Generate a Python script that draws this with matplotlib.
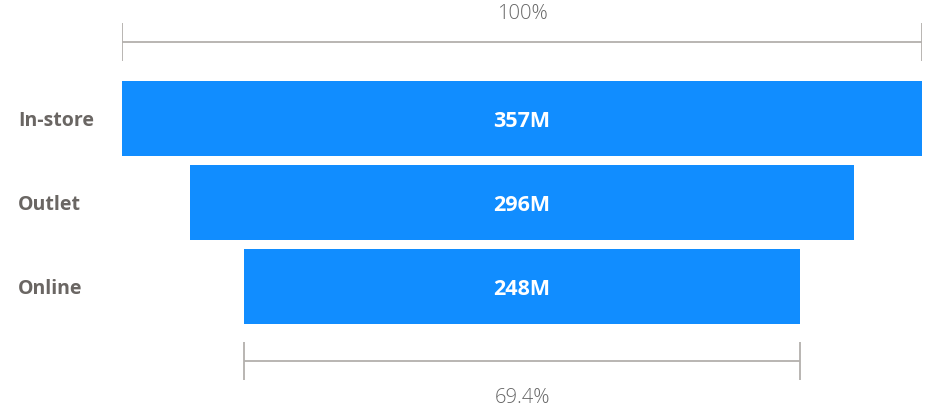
import matplotlib
matplotlib.use("Agg")
import matplotlib.pyplot as plt
from matplotlib.transforms import blended_transform_factory

categories = ["In-store", "Outlet", "Online"]
values = [357.3, 296.2, 247.9]  # millions
value_labels = ["357M", "296M", "248M"]

bar_color = "#118DFF"
label_color = "#6A6663"
bracket_color = "#B3B0AD"
font = ["Open Sans", "DejaVu Sans"]

W, H = 932, 410
fig = plt.figure(figsize=(W / 100, H / 100), dpi=100)
ax = fig.add_axes([122 / W, 0, 800 / W, 1])
vmax = max(values)
ax.set_xlim(-vmax / 2, vmax / 2)
ax.set_ylim(3.462, -1.420)
ax.axis("off")

ys = list(range(len(categories)))
ax.barh(ys, values, left=[-v / 2 for v in values], height=75 / 84, color=bar_color)

dy = 0.025
tr = blended_transform_factory(fig.transFigure, ax.transData)
for y, cat, v, lab in zip(ys, categories, values, value_labels):
    ax.text(18 / W, y + dy, cat, transform=tr, ha="left", va="center",
            fontsize=14, fontweight="bold", color=label_color, family=font)
    ax.text(0, y + dy, lab, ha="center", va="center", fontsize=15.5,
            fontweight="bold", color="white", family=font)

def bracket(v, y, ty, text):
    tick = 0.226
    ax.plot([-v / 2, v / 2], [y, y], color=bracket_color, lw=1.3, solid_capstyle="butt")
    for x in (-v / 2, v / 2):
        ax.plot([x, x], [y - tick, y + tick], color=bracket_color, lw=1.3, solid_capstyle="butt")
    ax.text(0, ty + dy, text, ha="center", va="center", fontsize=14.5,
            color="#666666", family=font, fontweight="light")

first, last = values[0], values[-1]
bracket(first, -0.905, -1.274, "100%")
pct = round(last / first * 100, 1)
bracket(last, 2.893, 3.298, f"{pct:.1f}%")

fig.savefig("out.png", dpi=100)
